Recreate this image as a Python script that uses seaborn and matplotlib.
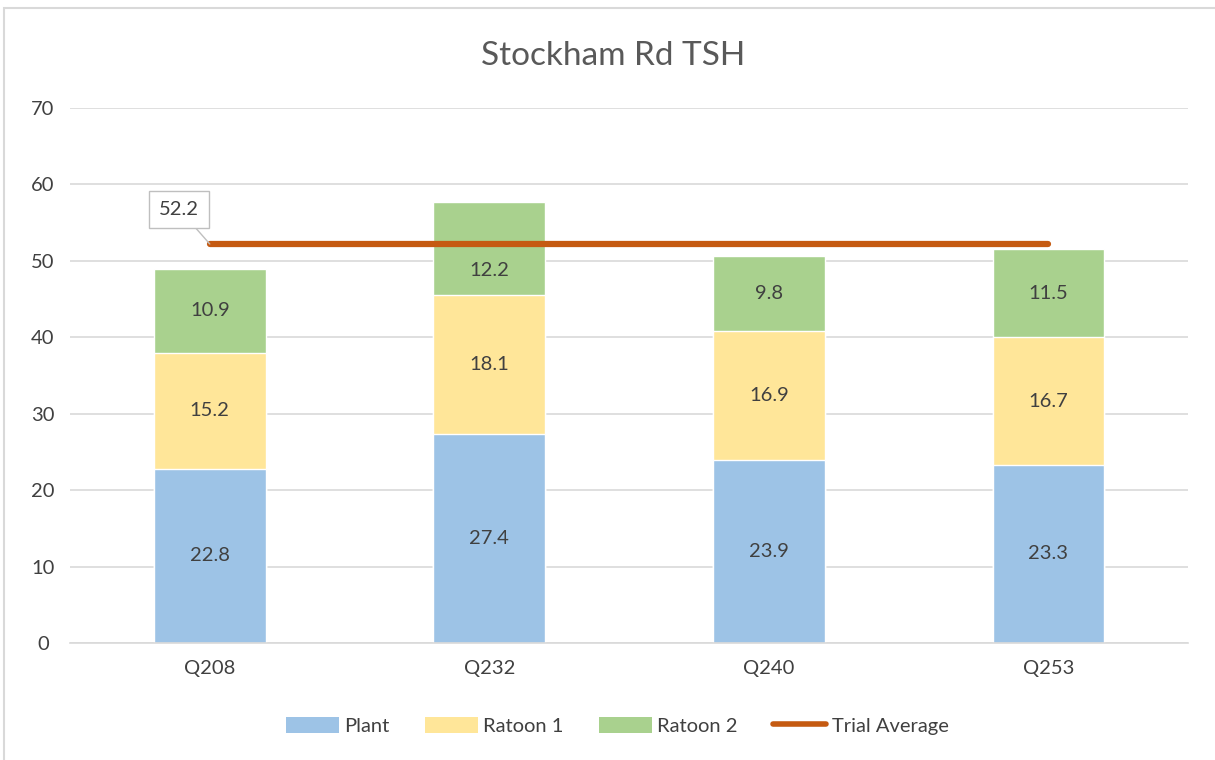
import matplotlib
matplotlib.use("Agg")
import matplotlib.pyplot as plt
import seaborn as sns
import pandas as pd
import numpy as np
from matplotlib.patches import Patch, Rectangle
from matplotlib.lines import Line2D

varieties = ["Q208", "Q232", "Q240", "Q253"]
plant = [22.8, 27.4, 23.9, 23.3]
ratoon1 = [15.2, 18.1, 16.9, 16.7]
ratoon2 = [10.9, 12.2, 9.8, 11.5]
trial_average = [52.2, 52.2, 52.2, 52.2]

sns.set_theme(style="white")
plt.rcParams["font.family"] = ["Lato", "DejaVu Sans"]

c_plant = "#9DC3E6"
c_r1 = "#FFE699"
c_r2 = "#A9D18E"
c_avg = "#C55A11"
txt = "#404040"

fig = plt.figure(figsize=(12.15, 7.6), dpi=100)
ax = fig.add_axes([0.0576, 0.154, 0.9204, 0.704])

df = pd.DataFrame({"variety": varieties, "plant": plant, "r1": ratoon1, "r2": ratoon2})
df["top1"] = df["plant"] + df["r1"]
df["top2"] = df["top1"] + df["r2"]

sns.barplot(data=df, x="variety", y="top2", color=c_r2, saturation=1, width=0.4, ax=ax, zorder=2)
sns.barplot(data=df, x="variety", y="top1", color=c_r1, saturation=1, width=0.4, ax=ax, zorder=2)
sns.barplot(data=df, x="variety", y="plant", color=c_plant, saturation=1, width=0.4, ax=ax, zorder=2)


def seg_label(x, y, val):
    # nudge a label downward when it would sit on the trial-average line
    dy = -16 if abs(y - trial_average[x]) < 2 else 0
    ax.annotate(f"{val:.1f}", xy=(x, y), xytext=(0, dy), textcoords="offset points",
                ha="center", va="center", fontsize=14.5, color=txt, zorder=4)


for i in range(len(varieties)):
    seg_label(i, plant[i] / 2, plant[i])
    seg_label(i, plant[i] + ratoon1[i] / 2, ratoon1[i])
    seg_label(i, plant[i] + ratoon1[i] + ratoon2[i] / 2, ratoon2[i])

xs = np.arange(len(varieties))
ax.plot(xs, trial_average, color=c_avg, lw=4.5, solid_capstyle="round", zorder=3)

ax.annotate(f"{trial_average[0]:.1f}", xy=(0, trial_average[0]), xytext=(-22, 25),
            textcoords="offset points", ha="center", va="center", fontsize=14.5, color=txt,
            bbox=dict(boxstyle="square,pad=0.5", fc="white", ec="#BFBFBF", lw=1),
            arrowprops=dict(arrowstyle="-", color="#BFBFBF", lw=1, shrinkA=0, shrinkB=0), zorder=5)

ax.set_xlim(-0.5, 3.5)
ax.set_ylim(0, 70)
ax.set_yticks(range(0, 71, 10))
ax.yaxis.grid(True, color="#D9D9D9", lw=1.2, zorder=0)
ax.set_axisbelow(True)
for s in ["top", "right", "left"]:
    ax.spines[s].set_visible(False)
ax.spines["bottom"].set_color("#D9D9D9")
ax.spines["bottom"].set_linewidth(1.2)
ax.set_xlabel("")
ax.set_ylabel("")
ax.tick_params(axis="both", labelsize=14.5, colors=txt, length=0)
ax.tick_params(axis="x", pad=12)
ax.tick_params(axis="y", pad=19.5)
for lab in ax.get_yticklabels():
    lab.set_horizontalalignment("center")

fig.text(0.505, 0.926, "Stockham Rd TSH", ha="center", va="center", fontsize=24, color="#595959")

handles = [Patch(facecolor=c_plant, edgecolor="none"),
           Patch(facecolor=c_r1, edgecolor="none"),
           Patch(facecolor=c_r2, edgecolor="none"),
           Line2D([0], [0], color=c_avg, lw=4, solid_capstyle="round")]
labels = ["Plant", "Ratoon 1", "Ratoon 2", "Trial Average"]
fig.legend(handles, labels, loc="center", bbox_to_anchor=(0.508, 0.045), ncol=4, frameon=False,
           fontsize=14.5, labelcolor=txt, handlelength=2.65, handleheight=0.9, handletextpad=0.25,
           columnspacing=1.75)

fig.patches.append(Rectangle((0.003, -0.01), 1.0, 0.999, transform=fig.transFigure,
                             fill=False, ec="#D9D9D9", lw=1.5))

fig.savefig("out.png", dpi=100)
